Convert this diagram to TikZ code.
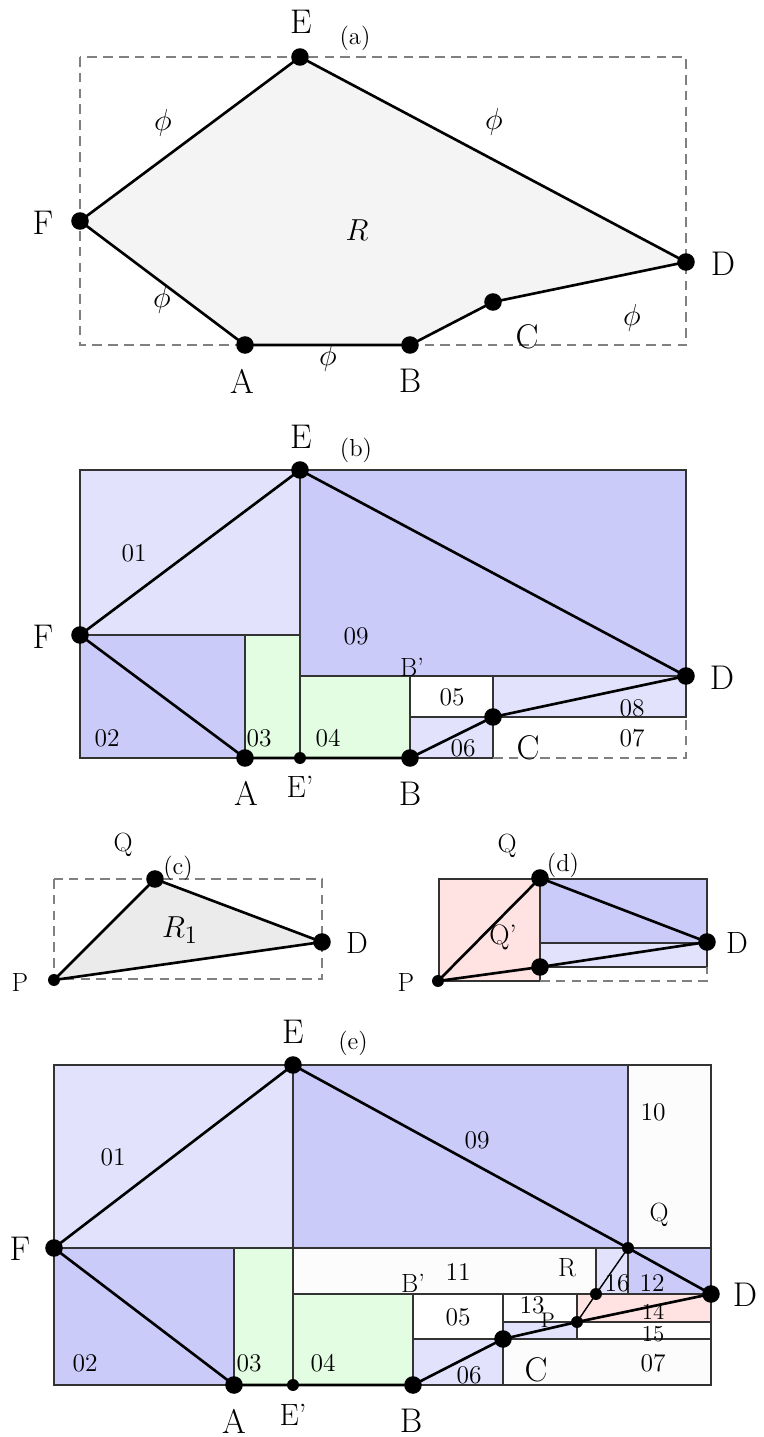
\documentclass[tikz,border=0pt]{standalone}
\usepackage{fontspec}
\definecolor{lb}{RGB}{226,226,252}
\definecolor{db}{RGB}{203,203,250}
\definecolor{lg}{RGB}{226,253,226}
\definecolor{pk}{RGB}{255,226,226}
\definecolor{nw}{RGB}{252,252,252}
\definecolor{ga}{RGB}{244,244,244}
\definecolor{gc}{RGB}{235,235,235}
\newcommand\fsz[1]{\fontsize{#1}{#1}\selectfont}
\begin{document}
\begin{tikzpicture}[x=0.02cm,y=-0.02cm,
 bigdot/.style={circle,fill=black,inner sep=0pt,minimum size=10pt},
 smalldot/.style={circle,fill=black,inner sep=0pt,minimum size=6.8pt},
 edge/.style={line width=1.5pt,line join=round},
 region/.style={draw=black!80,line width=0.7pt},
 thinedge/.style={draw=black,line width=0.8pt},
 dbox/.style={draw=gray,line width=0.6pt,dash pattern=on 5.5pt off 3.5pt},
 lab/.style={font=\fsz{19.5},inner sep=0pt},
 mlab/.style={font=\fsz{15},inner sep=0pt},
 phil/.style={font=\fsz{16},inner sep=0pt},
 num/.style={font=\fsz{14.5},inner sep=0pt},
 captxt/.style={font=\fsz{14},inner sep=0pt},
]
\useasboundingbox (0,0) rectangle (764,1437);

% ---------------- (a) ----------------
\coordinate (aE) at (300,57);
\coordinate (aF) at (80,221);
\coordinate (aA) at (245,345);
\coordinate (aB) at (410,345);
\coordinate (aC) at (493,302);
\coordinate (aD) at (686,262);
\fill[ga] (aE)--(aF)--(aA)--(aB)--(aC)--(aD)--cycle;
\draw[dbox] (80,57) rectangle (686,345);
\draw[edge] (aE)--(aF)--(aA)--(aB)--(aC)--(aD)--cycle;
\foreach \p in {aE,aF,aA,aB,aC,aD} \node[bigdot] (\p d) at (\p) {};
\node[lab] (laE) at (301,22) {E};
\node[captxt] (laCap) at (355,38) {(a)};
\node[lab] (laF) at (43,223) {F};
\node[lab] (laD) at (723,264) {D};
\node[lab] (laA) at (242,381) {A};
\node[lab] (laB) at (410,381) {B};
\node[lab] (laC) at (527,337) {C};
\node[phil] (laR) at (357,230) {$R$};
\node[phil] (lph1) at (163,123) {$\phi$};
\node[phil] (lph2) at (494,122) {$\phi$};
\node[phil] (lph3) at (162,300) {$\phi$};
\node[phil] (lph4) at (328,358) {$\phi$};
\node[phil] (lph5) at (632,318) {$\phi$};

% ---------------- (b) ----------------
\coordinate (bE) at (300,470);
\coordinate (bF) at (80,635);
\coordinate (bA) at (245,758);
\coordinate (bEp) at (300,758);
\coordinate (bB) at (410,758);
\coordinate (bC) at (493,717);
\coordinate (bD) at (686,676);
\filldraw[region,fill=lb] (80,470) rectangle (300,635);
\filldraw[region,fill=db] (300,470) rectangle (686,676);
\filldraw[region,fill=db] (80,635) rectangle (245,758);
\filldraw[region,fill=lg] (245,635) rectangle (300,758);
\filldraw[region,fill=lg] (300,676) rectangle (410,758);
\filldraw[region,fill=white] (410,676) rectangle (493,717);
\filldraw[region,fill=lb] (410,717) rectangle (493,758);
\filldraw[region,fill=lb] (493,676) rectangle (686,717);
\draw[dbox] (493,758) -- (686,758) -- (686,717);
\draw[edge] (bF)--(bE)--(bD)--(bC)--(bB)--(bA)--cycle;
\foreach \p in {bE,bF,bA,bB,bC,bD} \node[bigdot] (\p d) at (\p) {};
\node[smalldot] (bEpd) at (bEp) {};
\node[lab] (lbE) at (301,437) {E};
\node[captxt] (lbCap) at (356,450) {(b)};
\node[lab] (lbF) at (43,637) {F};
\node[lab] (lbD) at (722,678) {D};
\node[lab] (lbA) at (246,793) {A};
\node[lab,font=\fsz{17.5}] (lbEp) at (300,787) {E'};
\node[lab] (lbB) at (410,794) {B};
\node[lab] (lbC) at (528,748) {C};
\node[mlab] (lbBp) at (412,667) {B'};
\node[num] (b01) at (134,553) {01};
\node[num] (b09) at (356,636) {09};
\node[num] (b02) at (107,738) {02};
\node[num] (b03) at (259,738) {03};
\node[num] (b04) at (328,738) {04};
\node[num] (b05) at (452,697) {05};
\node[num] (b06) at (463,748) {06};
\node[num] (b08) at (632,708) {08};
\node[num] (b07) at (632,738) {07};

% ---------------- (c) ----------------
\coordinate (cP) at (54,980);
\coordinate (cQ) at (155,879);
\coordinate (cD) at (322,942);
\fill[gc] (cP)--(cQ)--(cD)--cycle;
\draw[dbox] (54,879) rectangle (322,979);
\draw[edge] (cP)--(cQ)--(cD)--cycle;
\node[smalldot] (cPd) at (cP) {};
\node[bigdot] (cQd) at (cQ) {};
\node[bigdot] (cDd) at (cD) {};
\node[mlab] (lcQ) at (123,845) {Q};
\node[captxt] (lcCap) at (178,868) {(c)};
\node[mlab] (lcP) at (20,982) {P};
\node[lab,font=\fsz{17.5}] (lcD) at (357,943) {D};
\node[lab,font=\fsz{19}] (lcR) at (180,930) {$R_1$};

% ---------------- (d) ----------------
\coordinate (dP) at (438,981);
\coordinate (dQ) at (540,878);
\coordinate (dD) at (707,942);
\coordinate (dM) at (540,967);
\filldraw[region,fill=pk] (439,879) rectangle (540,981);
\filldraw[region,fill=db] (540,879) rectangle (707,943);
\filldraw[region,fill=lb] (540,943) rectangle (707,967);
\draw[dbox] (540,981) -- (707,981) -- (707,967);
\draw[edge] (dP)--(dQ)--(dD)--(dM)--cycle;
\node[smalldot] (dPd) at (dP) {};
\foreach \p in {dQ,dD,dM} \node[bigdot] (\p d) at (\p) {};
\node[mlab] (ldQ) at (507,846) {Q};
\node[captxt] (ldCap) at (563,865) {(d)};
\node[mlab,font=\fsz{16}] (ldQp) at (503,937) {Q'};
\node[lab,font=\fsz{17.5}] (ldD) at (737,943) {D};
\node[mlab] (ldP) at (406,982) {P};

% ---------------- (e) ----------------
\coordinate (eE) at (293,1065);
\coordinate (eF) at (54,1248);
\coordinate (eA) at (234,1385);
\coordinate (eEp) at (293,1385);
\coordinate (eB) at (413,1385);
\coordinate (eC) at (503,1339);
\coordinate (eD) at (711,1294);
\coordinate (eQ) at (628,1248);
\coordinate (eP) at (577,1322);
\coordinate (eS) at (596,1294);
\filldraw[region,fill=lb] (54,1065) rectangle (293,1248);
\filldraw[region,fill=db] (293,1065) rectangle (628,1248);
\filldraw[region,fill=nw] (628,1065) rectangle (711,1248);
\filldraw[region,fill=db] (54,1248) rectangle (234,1385);
\filldraw[region,fill=lg] (234,1248) rectangle (293,1385);
\filldraw[region,fill=nw] (293,1248) rectangle (596,1294);
\filldraw[region,fill=lb] (596,1248) rectangle (628,1294);
\filldraw[region,fill=db] (628,1248) rectangle (711,1294);
\filldraw[region,fill=lg] (293,1294) rectangle (413,1385);
\filldraw[region,fill=white] (413,1294) rectangle (503,1339);
\filldraw[region,fill=white] (503,1294) rectangle (577,1322);
\filldraw[region,fill=lb] (503,1322) rectangle (577,1339);
\filldraw[region,fill=pk] (577,1294) rectangle (711,1322);
\filldraw[region,fill=white] (577,1322) rectangle (711,1339);
\filldraw[region,fill=lb] (413,1339) rectangle (503,1385);
\filldraw[region,fill=nw] (503,1339) rectangle (711,1385);
\draw[thinedge] (eQ)--(eS)--(eP);
\draw[edge] (eF)--(eE)--(eQ)--(eD)--(eP)--(eC)--(eB)--(eA)--cycle;
\foreach \p in {eE,eF,eA,eB,eC,eD} \node[bigdot] (\p d) at (\p) {};
\foreach \p in {eEp,eQ,eP,eS} \node[smalldot] (\p d) at (\p) {};
\node[lab] (leE) at (293,1032) {E};
\node[captxt] (leCap) at (353,1043) {(e)};
\node[lab] (leF) at (20,1249) {F};
\node[lab] (leD) at (745,1295) {D};
\node[lab] (leA) at (234,1421) {A};
\node[lab,font=\fsz{17.5}] (leEp) at (293,1415) {E'};
\node[lab] (leB) at (411,1421) {B};
\node[lab] (leC) at (536,1370) {C};
\node[mlab] (leQ) at (659,1215) {Q};
\node[mlab] (leR) at (567,1268) {R};
\node[mlab] (leBp) at (413,1283) {B'};
\node[captxt,font=\fsz{12}] (leP) at (548,1320) {P};
\node[num] (e01) at (113,1157) {01};
\node[num] (e09) at (477,1140) {09};
\node[num] (e10) at (653,1112) {10};
\node[num] (e02) at (85,1363) {02};
\node[num] (e03) at (249,1363) {03};
\node[num] (e04) at (323,1363) {04};
\node[num] (e11) at (458,1272) {11};
\node[num] (e16) at (617,1283) {16};
\node[num] (e12) at (652,1283) {12};
\node[num] (e05) at (458,1317) {05};
\node[num] (e13) at (532,1305) {13};
\node[num,font=\fsz{13}] (e14) at (653,1312) {14};
\node[num,font=\fsz{13}] (e15) at (653,1334) {15};
\node[num] (e06) at (469,1375) {06};
\node[num] (e07) at (653,1363) {07};
\end{tikzpicture}
\end{document}
